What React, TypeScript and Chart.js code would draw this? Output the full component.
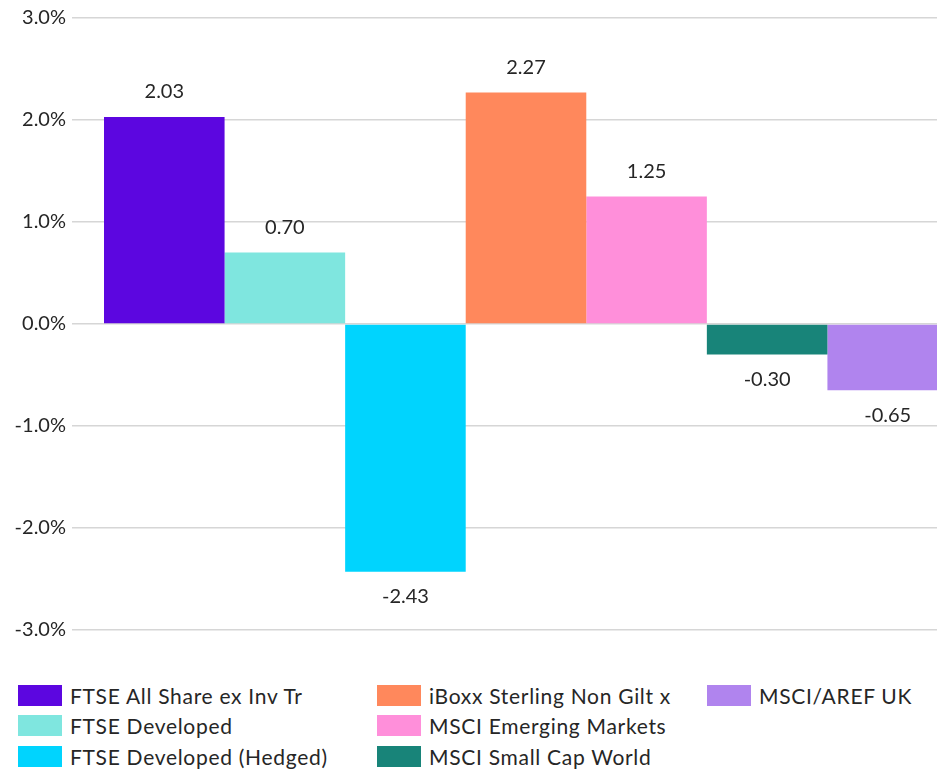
import React, { useEffect, useRef } from "react";
import { Chart, registerables } from "chart.js";

Chart.register(...registerables);

const seriesNames = [
  "FTSE All Share ex Inv Tr",
  "FTSE Developed",
  "FTSE Developed (Hedged)",
  "iBoxx Sterling Non Gilt x",
  "MSCI Emerging Markets",
  "MSCI Small Cap World",
  "MSCI/AREF UK",
];
const seriesValues = [2.03, 0.7, -2.43, 2.27, 1.25, -0.3, -0.65];
const seriesColors = [
  "#5C06E0",
  "#7FE6DF",
  "#00D4FE",
  "#FF885C",
  "#FF8FDA",
  "#188479",
  "#B084EE",
];
const categories = [""];
const yMin = -3;
const yMax = 3;
const yStep = 1;

const FONT = "Lato, 'Open Sans', sans-serif";

const valueLabels = {
  id: "valueLabels",
  afterDatasetsDraw(chart: any) {
    const ctx = chart.ctx;
    ctx.save();
    ctx.font = `20px ${FONT}`;
    ctx.fillStyle = "#262626";
    ctx.textAlign = "center";
    ctx.textBaseline = "middle";
    chart.data.datasets.forEach((ds: any, i: number) => {
      const meta = chart.getDatasetMeta(i);
      meta.data.forEach((bar: any, j: number) => {
        const v = ds.data[j] as number;
        const y = v >= 0 ? bar.y - 25 : bar.y + 25;
        ctx.fillText(v.toFixed(2), bar.x, y);
      });
    });
    ctx.restore();
  },
};

export default function App() {
  const ref = useRef<HTMLCanvasElement | null>(null);

  useEffect(() => {
    if (!ref.current) return;
    const chart = new Chart(ref.current, {
      type: "bar",
      data: {
        labels: categories,
        datasets: seriesNames.map((name, i) => ({
          label: name,
          data: [seriesValues[i]],
          backgroundColor: seriesColors[i],
          borderWidth: 0,
          barPercentage: 1,
          categoryPercentage: 0.9295,
        })),
      },
      options: {
        animation: false,
        responsive: false,
        devicePixelRatio: 1,
        layout: { padding: { top: 18, bottom: 30, left: 0, right: 0 } },
        plugins: {
          legend: { display: false },
          tooltip: { enabled: false },
        },
        scales: {
          x: { display: false },
          y: {
            min: yMin,
            max: yMax,
            afterFit: (s: any) => {
              s.width = 72;
            },
            border: { display: false },
            grid: { color: "#d6d6d6", lineWidth: 1.5, drawTicks: false },
            ticks: {
              stepSize: yStep,
              padding: 6,
              color: "#262626",
              font: { family: FONT, size: 20 },
              callback: (v: any) => Number(v).toFixed(1) + "%",
            },
          },
        },
      },
      plugins: [valueLabels],
    });
    return () => chart.destroy();
  }, []);

  const columns = [
    [0, 1, 2],
    [3, 4, 5],
    [6],
  ];
  const colLeft = [18, 377, 707];

  return (
    <div
      style={{
        position: "fixed",
        left: 0,
        top: 0,
        width: 937,
        height: 770,
        overflow: "hidden",
        background: "#fff",
      }}
    >
      <canvas ref={ref} width={980} height={660} style={{ display: "block" }} />
      {columns.map((col, ci) =>
        col.map((idx, ri) => (
          <div
            key={idx}
            style={{
              position: "absolute",
              left: colLeft[ci],
              top: 695 + ri * 30.8 - 15,
              height: 30,
              display: "flex",
              alignItems: "center",
              whiteSpace: "nowrap",
              fontFamily: FONT,
              fontSize: 21,
              letterSpacing: "0.7px",
              color: "#262626",
            }}
          >
            <span
              style={{
                display: "inline-block",
                width: 44,
                height: 21,
                background: seriesColors[idx],
                marginRight: 8,
              }}
            />
            <span>{seriesNames[idx]}</span>
          </div>
        ))
      )}
    </div>
  );
}
